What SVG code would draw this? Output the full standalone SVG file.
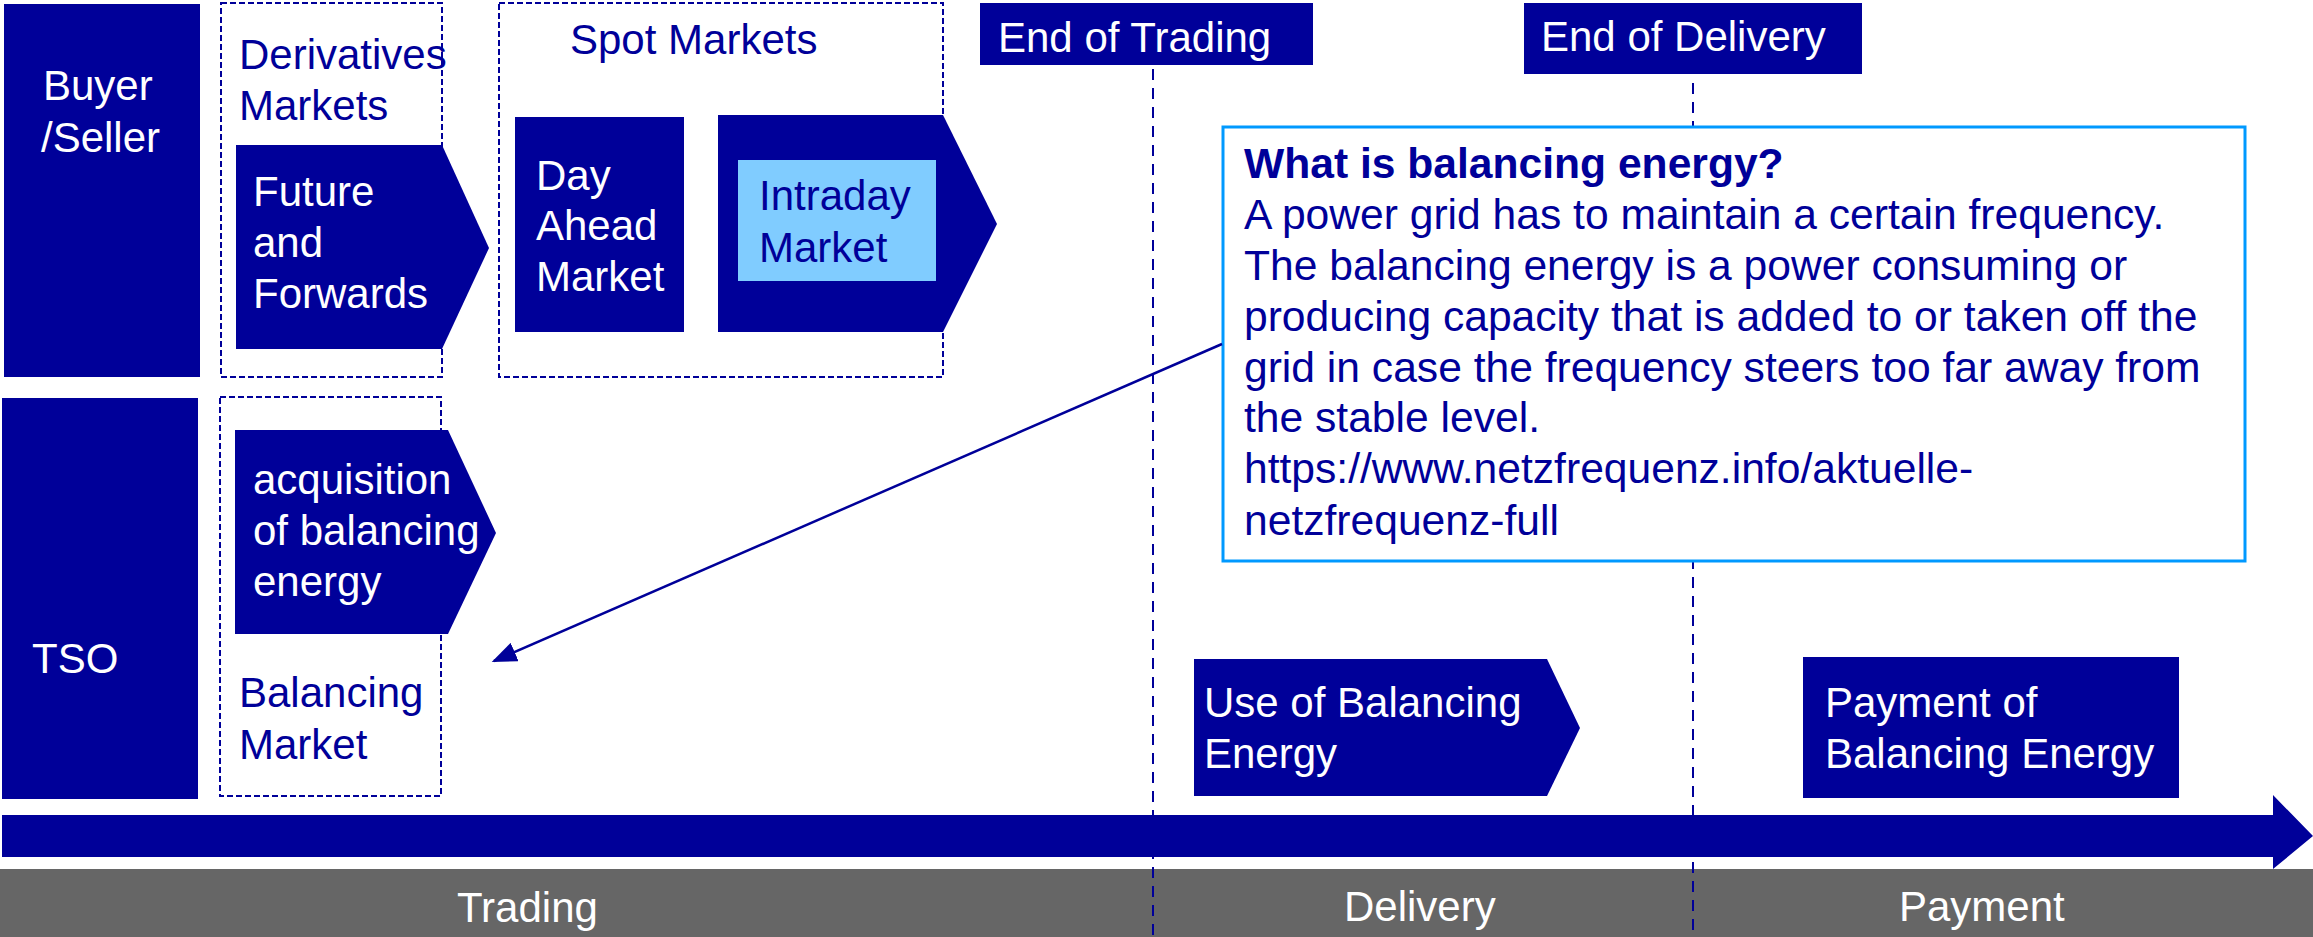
<svg xmlns="http://www.w3.org/2000/svg" width="2313" height="937" viewBox="0 0 2313 937">
<style>
text{font-family:"Liberation Sans",Arial,sans-serif;font-size:42px}
.w{fill:#ffffff}
.b{fill:#000099}
.c{font-size:42.6px}
.box{fill:#000099}
.dash{fill:none;stroke:#000099;stroke-width:2;stroke-dasharray:6,3}
.vl{fill:none;stroke:#000099;stroke-width:2;stroke-dasharray:11,8}
</style>
<defs>
<marker id="ah" markerWidth="10" markerHeight="8" refX="9" refY="4" orient="auto" markerUnits="strokeWidth">
<path d="M0,0 L10,4 L0,8 Z" fill="#000099"/>
</marker>
</defs>
<rect width="2313" height="937" fill="#ffffff"/>

<g id="buyer-seller">
<rect class="box" x="4" y="4" width="196" height="373"/>
<text class="w" x="43" y="100">Buyer</text>
<text class="w" x="41" y="152">/Seller</text>
</g>

<g id="derivatives-markets">
<rect class="dash" x="221" y="3" width="221" height="374"/>
<text class="b" x="239" y="69">Derivatives</text>
<text class="b" x="239" y="120">Markets</text>
</g>

<g id="future-forwards">
<path class="box" d="M236,145 L442,145 L489,248 L442,349 L236,349 Z"/>
<text class="w" x="253" y="206">Future</text>
<text class="w" x="253" y="257">and</text>
<text class="w" x="253" y="308">Forwards</text>
</g>

<g id="spot-markets">
<rect class="dash" x="499" y="3" width="444" height="374"/>
<text class="b" x="570" y="54">Spot Markets</text>
</g>

<g id="day-ahead">
<rect class="box" x="515" y="117" width="169" height="215"/>
<text class="w" x="536" y="190">Day</text>
<text class="w" x="536" y="240">Ahead</text>
<text class="w" x="536" y="291">Market</text>
</g>

<g id="intraday">
<path class="box" d="M718,115 L943,115 L997,224 L943,332 L718,332 Z"/>
<rect x="738" y="160" width="198" height="121" fill="#80CCFF"/>
<text class="b" x="759" y="210">Intraday</text>
<text class="b" x="759" y="262">Market</text>
</g>

<g id="tso">
<rect class="box" x="2" y="398" width="196" height="401"/>
<text class="w" x="32" y="673">TSO</text>
</g>

<g id="balancing-market">
<rect class="dash" x="220" y="397" width="221" height="399"/>
<text class="b" x="239" y="707">Balancing</text>
<text class="b" x="239" y="759">Market</text>
</g>

<g id="acquisition">
<path class="box" d="M235,430 L448,430 L496,533 L448,634 L235,634 Z"/>
<text class="w" x="253" y="494">acquisition</text>
<text class="w" x="253" y="545">of balancing</text>
<text class="w" x="253" y="596">energy</text>
</g>

<g id="end-of-trading">
<rect class="box" x="980" y="3" width="333" height="62"/>
<text class="w" x="998" y="52">End of Trading</text>
</g>

<g id="end-of-delivery">
<rect class="box" x="1524" y="3" width="338" height="71"/>
<text class="w" x="1541" y="51">End of Delivery</text>
</g>

<g id="use-of-balancing">
<path class="box" d="M1194,659 L1547,659 L1580,728 L1547,796 L1194,796 Z"/>
<text class="w" x="1204" y="717">Use of Balancing</text>
<text class="w" x="1204" y="768">Energy</text>
</g>

<g id="payment-of-balancing">
<rect class="box" x="1803" y="657" width="376" height="141"/>
<text class="w" x="1825" y="717">Payment of</text>
<text class="w" x="1825" y="768">Balancing Energy</text>
</g>

<g id="timeline">
<path class="box" d="M2,815 L2273,815 L2273,795 L2313,836 L2273,869 L2273,857 L2,857 Z"/>
<rect x="0" y="869" width="2313" height="68" fill="#666666"/>
<text class="w" x="457" y="922">Trading</text>
<text class="w" x="1344" y="921">Delivery</text>
<text class="w" x="1899" y="921">Payment</text>
</g>

<g id="milestone-lines">
<line class="vl" x1="1153" y1="69" x2="1153" y2="937"/>
<line class="vl" x1="1693" y1="83" x2="1693" y2="937"/>
</g>

<g id="callout">
<rect x="1223" y="127" width="1022" height="434" fill="#ffffff" stroke="#0099FF" stroke-width="3"/>
<text class="b c" x="1244" y="178" font-weight="bold">What is balancing energy?</text>
<text class="b c" x="1244" y="229">A power grid has to maintain a certain frequency.</text>
<text class="b c" x="1244" y="280">The balancing energy is a power consuming or</text>
<text class="b c" x="1244" y="331">producing capacity that is added to or taken off the</text>
<text class="b c" x="1244" y="382">grid in case the frequency steers too far away from</text>
<text class="b c" x="1244" y="432">the stable level.</text>
<text class="b c" x="1244" y="483">https://www.netzfrequenz.info/aktuelle-</text>
<text class="b c" x="1244" y="535">netzfrequenz-full</text>
</g>

<g id="connectors">
<line x1="1222" y1="344" x2="494" y2="661" stroke="#000099" stroke-width="2.5" marker-end="url(#ah)"/>
</g>
</svg>
